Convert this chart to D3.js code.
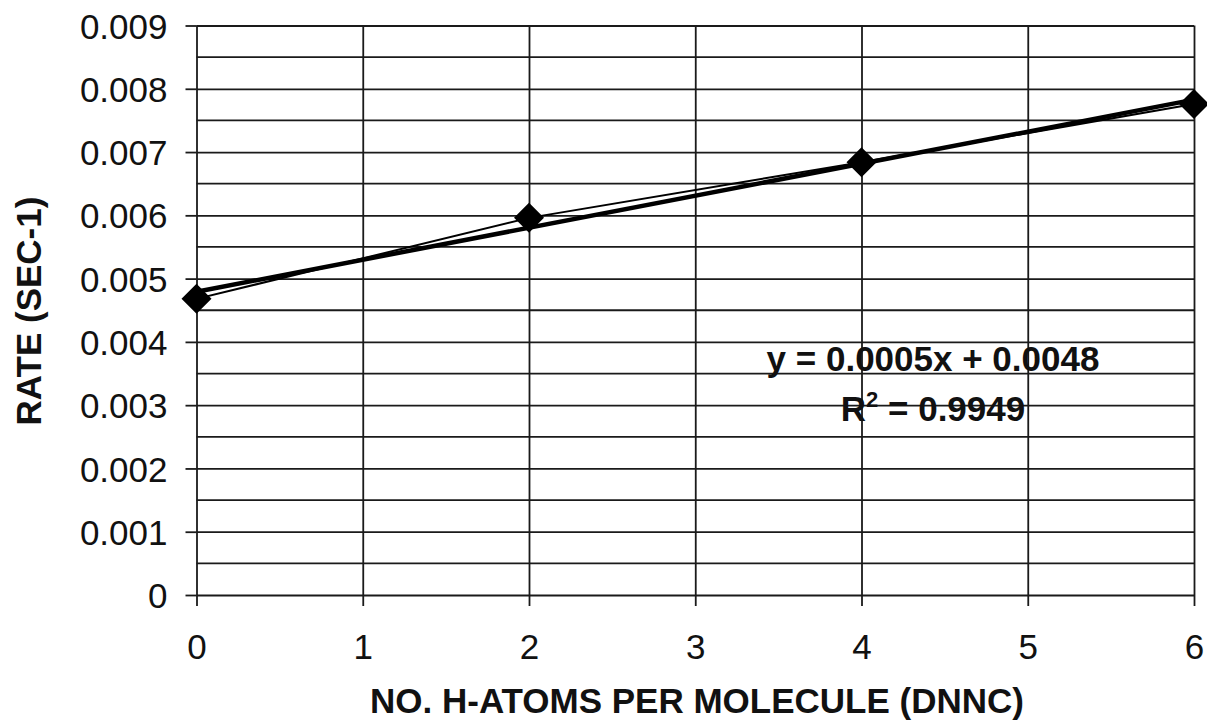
<!DOCTYPE html>
<html>
<head>
    <meta charset="utf-8">
    <title>Rate vs H-atoms</title>
    <style>
        body { margin: 0; background: #fff; }
        svg { font-family: "Liberation Sans", Arial, sans-serif; }
    </style>
</head>
<body>
    <script src="https://cdnjs.cloudflare.com/ajax/libs/d3/7.9.0/d3.min.js"></script>
    <script>

        // values
        const hAtoms = [0, 2, 4, 6];
        const rates = [0.00468, 0.00596, 0.00684, 0.00776];

        const xTicks = [0, 1, 2, 3, 4, 5, 6];
        const yTicks = [0, 0.001, 0.002, 0.003, 0.004, 0.005, 0.006, 0.007, 0.008, 0.009];
        const yMinor = [0.0005, 0.0015, 0.0025, 0.0035, 0.0045, 0.0055, 0.0065, 0.0075, 0.0085];

        const eqText = "y = 0.0005x + 0.0048";
        const r2Value = "0.9949";

        const width = 1207;
        const height = 725;
        const margin = {top: 25.5, right: 13, bottom: 130, left: 196.5};

        const svg = d3.select("body")
            .append("svg")
            .attr("width", width)
            .attr("height", height);

        const x = d3.scaleLinear()
            .domain([0, 6])
            .range([margin.left, width - margin.right]);

        const y = d3.scaleLinear()
            .domain([0, 0.009])
            .range([height - margin.bottom, margin.top]);

        const ink = "#1a1a1a";

        // minor horizontal grid
        svg.append("g")
            .selectAll("line")
            .data(yMinor)
            .enter()
            .append("line")
            .attr("x1", x(0))
            .attr("x2", x(6))
            .attr("y1", d => y(d))
            .attr("y2", d => y(d))
            .attr("stroke", ink)
            .attr("stroke-width", 1.8);

        // y axis with ticks outward and grid across
        const yAxis = svg.append("g")
            .attr("transform", `translate(${x(0)},0)`)
            .call(d3.axisLeft(y)
                .tickValues(yTicks)
                .tickFormat(d => d === 0 ? "0" : d3.format(".3f")(d))
                .tickSize(11)
                .tickPadding(18));

        yAxis.select(".domain").remove();
        yAxis.selectAll(".tick line")
            .attr("stroke", ink)
            .attr("stroke-width", 1.8)
            .attr("x2", -11);
        yAxis.selectAll(".tick")
            .append("line")
            .attr("x1", 0)
            .attr("x2", x(6) - x(0))
            .attr("stroke", ink)
            .attr("stroke-width", 1.8);
        yAxis.selectAll("text")
            .attr("font-size", 35)
            .attr("fill", "#111")
            .attr("dy", "0.36em");

        // x axis
        const xAxis = svg.append("g")
            .attr("transform", `translate(0,${y(0)})`)
            .call(d3.axisBottom(x)
                .tickValues(xTicks)
                .tickFormat(d3.format("d"))
                .tickSize(11)
                .tickPadding(28));

        xAxis.select(".domain").remove();
        xAxis.selectAll(".tick line")
            .attr("stroke", ink)
            .attr("stroke-width", 1.8);
        xAxis.selectAll(".tick")
            .append("line")
            .attr("y1", 0)
            .attr("y2", y(0.009) - y(0))
            .attr("stroke", ink)
            .attr("stroke-width", 1.8);
        xAxis.selectAll("text")
            .attr("font-size", 35)
            .attr("fill", "#111");

        // least squares trendline through the data
        const mx = d3.mean(hAtoms);
        const my = d3.mean(rates);
        const slope = d3.sum(hAtoms, (v, i) => (v - mx) * (rates[i] - my)) /
            d3.sum(hAtoms, v => (v - mx) * (v - mx));
        const intercept = my - slope * mx;

        svg.append("line")
            .attr("x1", x(0))
            .attr("y1", y(intercept))
            .attr("x2", x(6))
            .attr("y2", y(intercept + slope * 6))
            .attr("stroke", "#000")
            .attr("stroke-width", 4.5);

        // data line
        const line = d3.line()
            .x((d, i) => x(hAtoms[i]))
            .y(d => y(d));

        svg.append("path")
            .datum(rates)
            .attr("d", line)
            .attr("fill", "none")
            .attr("stroke", "#000")
            .attr("stroke-width", 2);

        // diamond markers
        svg.selectAll(".pt")
            .data(rates)
            .enter()
            .append("path")
            .attr("class", "pt")
            .attr("transform", (d, i) => `translate(${x(hAtoms[i])},${y(d)})`)
            .attr("d", "M0,-15L15,0L0,15L-15,0Z")
            .attr("fill", "#000");

        // equation label
        svg.append("text")
            .attr("x", 933)
            .attr("y", 371)
            .attr("text-anchor", "middle")
            .attr("font-size", 35)
            .attr("font-weight", "bold")
            .attr("fill", "#111")
            .text(eqText);

        const r2 = svg.append("text")
            .attr("x", 933)
            .attr("y", 421)
            .attr("text-anchor", "middle")
            .attr("font-size", 35)
            .attr("font-weight", "bold")
            .attr("fill", "#111");
        r2.append("tspan").text("R");
        r2.append("tspan").attr("font-size", 22).attr("dy", -14).text("2");
        r2.append("tspan").attr("dy", 14).text(" = " + r2Value);

        // axis titles
        svg.append("text")
            .attr("x", 697)
            .attr("y", 713)
            .attr("text-anchor", "middle")
            .attr("font-size", 35)
            .attr("font-weight", "bold")
            .attr("fill", "#111")
            .text("NO. H-ATOMS PER MOLECULE (DNNC)");

        svg.append("text")
            .attr("transform", "translate(41,311) rotate(-90)")
            .attr("text-anchor", "middle")
            .attr("font-size", 35)
            .attr("font-weight", "bold")
            .attr("fill", "#111")
            .text("RATE (SEC-1)");

    </script>
</body>
</html>
